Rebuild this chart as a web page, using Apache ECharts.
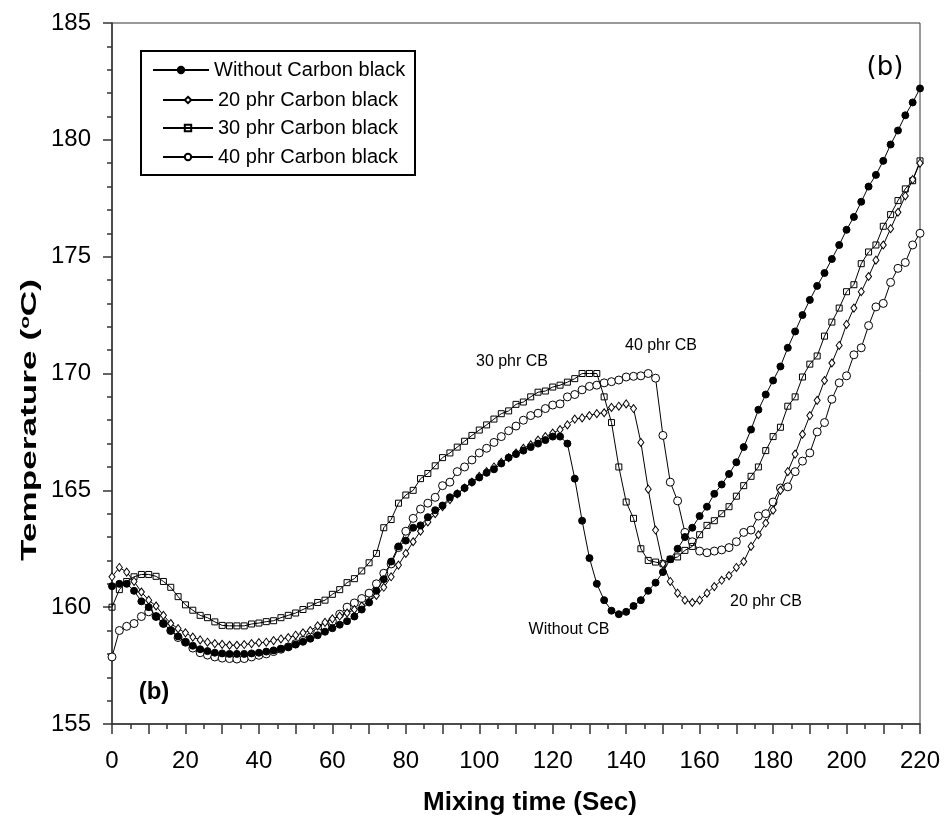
<!DOCTYPE html>
<html><head><meta charset="utf-8">
<script src="https://cdn.jsdelivr.net/npm/echarts@6/dist/echarts.min.js"></script>
<style>html,body{margin:0;padding:0;background:#fff}#c{width:945px;height:819px}</style>
</head><body><div id="c"></div>
<script>
// Mixing time (s)
const times = [
  0,2,4,6,8,10,12,14,16,18,
  20,22,24,26,28,30,32,34,36,38,
  40,42,44,46,48,50,52,54,56,58,
  60,62,64,66,68,70,72,74,76,78,
  80,82,84,86,88,90,92,94,96,98,
  100,102,104,106,108,110,112,114,116,118,
  120,122,124,126,128,130,132,134,136,138,
  140,142,144,146,148,150,152,154,156,158,
  160,162,164,166,168,170,172,174,176,178,
  180,182,184,186,188,190,192,194,196,198,
  200,202,204,206,208,210,212,214,216,218,
  220
];
const seriesNames = ['Without Carbon black','20 phr Carbon black','30 phr Carbon black','40 phr Carbon black'];
const withoutCB = [
  160.9,161.0,161.0,160.7,160.25,160.0,159.6,159.3,159.0,158.75,
  158.5,158.35,158.2,158.12,158.05,158.02,158.0,158.0,158.0,158.02,
  158.05,158.1,158.15,158.22,158.3,158.4,158.52,158.65,158.8,158.95,
  159.1,159.25,159.4,159.6,159.9,160.2,160.7,161.2,161.95,162.6,
  162.85,163.4,163.5,163.85,164.15,164.35,164.7,164.85,165.1,165.35,
  165.55,165.75,165.9,166.15,166.4,166.55,166.7,166.85,167.0,167.15,
  167.3,167.3,167.0,165.5,163.7,162.1,161.0,160.3,159.85,159.7,
  159.8,160.05,160.3,160.7,161.05,161.5,162.05,162.5,163.0,163.4,
  163.9,164.3,164.85,165.25,165.7,166.2,166.85,167.6,168.45,169.1,
  169.7,170.3,171.1,171.8,172.5,173.15,173.75,174.3,174.9,175.5,
  176.15,176.7,177.35,178.0,178.5,179.1,179.8,180.4,181.05,181.6,
  182.2
];
const phr20 = [
  161.3,161.7,161.5,161.1,160.65,160.3,160.05,159.65,159.3,159.08,
  158.9,158.72,158.6,158.5,158.44,158.41,158.37,158.37,158.4,158.44,
  158.48,158.5,158.57,158.64,158.7,158.8,158.9,159.0,159.2,159.35,
  159.5,159.62,159.75,159.9,160.05,160.25,160.5,160.85,161.3,161.8,
  162.3,162.8,163.25,163.65,164.0,164.3,164.6,164.85,165.1,165.35,
  165.6,165.8,166.0,166.2,166.4,166.6,166.8,166.95,167.15,167.3,
  167.45,167.6,167.8,168.05,168.1,168.2,168.28,168.32,168.55,168.6,
  168.7,168.5,167.05,165.05,163.3,161.85,161.1,160.6,160.3,160.2,
  160.3,160.6,160.88,161.15,161.35,161.7,161.95,162.6,163.1,163.6,
  164.15,165.0,165.8,166.55,167.4,168.2,168.85,169.7,170.45,171.2,
  172.1,172.8,173.5,174.15,174.85,175.5,176.2,176.9,177.6,178.3,
  179.0
];
const phr30 = [
  160.0,160.75,161.1,161.3,161.4,161.4,161.32,161.1,160.85,160.45,
  160.1,159.87,159.65,159.55,159.37,159.22,159.2,159.2,159.2,159.28,
  159.32,159.38,159.42,159.55,159.65,159.75,159.9,160.05,160.2,160.3,
  160.55,160.75,161.05,161.22,161.55,161.9,162.3,163.4,163.75,164.45,
  164.8,165.0,165.5,165.72,166.05,166.4,166.6,166.85,167.1,167.35,
  167.58,167.8,168.05,168.28,168.4,168.68,168.78,169.0,169.2,169.25,
  169.42,169.5,169.63,169.78,170.0,170.0,170.0,169.0,167.9,166.0,
  164.5,163.8,162.5,162.0,161.93,161.86,162.05,162.15,162.43,162.6,
  163.1,163.5,163.7,164.0,164.3,164.75,165.2,165.6,166.0,166.7,
  167.3,167.7,168.6,169.0,169.85,170.4,170.75,171.6,172.2,172.8,
  173.5,173.8,174.7,175.2,175.5,176.3,176.8,177.4,177.9,178.25,
  179.1
];
const phr40 = [
  157.87,159.0,159.18,159.3,159.6,159.8,159.6,159.3,159.0,158.7,
  158.5,158.25,158.05,157.95,157.87,157.82,157.8,157.78,157.8,157.87,
  157.94,158.0,158.1,158.2,158.3,158.44,158.58,158.72,158.92,159.15,
  159.4,159.7,160.0,160.18,160.37,160.6,161.0,161.45,161.85,162.55,
  163.25,163.8,164.2,164.45,164.7,165.2,165.35,165.8,166.0,166.3,
  166.6,166.8,167.05,167.3,167.55,167.75,168.0,168.2,168.3,168.5,
  168.65,168.7,169.0,169.1,169.3,169.45,169.5,169.6,169.65,169.72,
  169.85,169.88,169.9,170.0,169.8,167.35,165.35,164.55,163.2,162.8,
  162.4,162.33,162.4,162.45,162.55,162.8,163.2,163.3,163.9,164.0,
  164.5,165.1,165.15,165.8,166.25,166.6,167.5,167.9,168.9,169.6,
  169.9,170.8,171.1,172.05,172.85,173.0,173.9,174.5,174.75,175.5,
  176.0
];
const xTickLabelStep = 20;

const FONT = '"Liberation Sans", Arial, Helvetica, sans-serif';
const chart = echarts.init(document.getElementById('c'), null, {renderer: 'canvas'});
const pair = arr => times.map((t, i) => [t, arr[i]]);

const markerStyles = [
  {symbol: 'circle', symbolSize: 7, itemStyle: {color: '#000', borderColor: '#000', borderWidth: 1}},
  {symbol: 'diamond', symbolSize: [6, 8], itemStyle: {color: '#fff', borderColor: '#000', borderWidth: 1}},
  {symbol: 'rect', symbolSize: 6, itemStyle: {color: 'rgba(0,0,0,0)', borderColor: '#000', borderWidth: 1}},
  {symbol: 'circle', symbolSize: 8, itemStyle: {color: '#fff', borderColor: '#000', borderWidth: 1}}
];
const allData = [withoutCB, phr20, phr30, phr40];

const series = seriesNames.map((name, k) => Object.assign({
  name: name,
  type: 'line',
  data: pair(allData[k]),
  showSymbol: true,
  showAllSymbol: true,
  lineStyle: {color: '#000', width: 1},
  emphasis: {disabled: true},
  z: 3 + (3 - k)
}, markerStyles[k]));

const legendRows = [
  {left: 152, top: 60, itemWidth: 56},
  {left: 162, top: 90, itemWidth: 50},
  {left: 162, top: 118, itemWidth: 50},
  {left: 162, top: 147, itemWidth: 50}
];
const legends = seriesNames.map((name, k) => ({
  data: [name],
  left: legendRows[k].left,
  top: legendRows[k].top,
  padding: 0,
  itemWidth: legendRows[k].itemWidth,
  itemHeight: 8,
  itemGap: 0,
  selectedMode: false,
  textStyle: {fontSize: 20, color: '#000', fontFamily: FONT, padding: [0, 0, 0, 0]},
  z: 10
}));

const annotations = [
  {text: '30 phr CB', x: 512, y: 362, size: 16, weight: 'normal', family: FONT},
  {text: '40 phr CB', x: 661, y: 346, size: 16, weight: 'normal', family: FONT},
  {text: 'Without CB', x: 569, y: 630, size: 16, weight: 'normal', family: FONT},
  {text: '20 phr CB', x: 766, y: 602, size: 16, weight: 'normal', family: FONT},
  {text: '(b)', x: 154, y: 692, size: 24, weight: 'bold', family: FONT},
  {text: '(b)', x: 885, y: 68, size: 26, weight: 'normal', family: '"DejaVu Sans", sans-serif'}
];

const graphics = [
  {type: 'rect', shape: {x: 141, y: 51, width: 274, height: 124},
   style: {fill: '#fff', stroke: '#000', lineWidth: 2}, z: 5}
].concat(annotations.map(a => ({
  type: 'text', x: a.x, y: a.y, z: 20,
  style: {text: a.text, fill: '#000', align: 'center', verticalAlign: 'middle',
          font: a.weight + ' ' + a.size + 'px ' + a.family}
}))).concat([
  {type: 'text', x: 423, y: 803, z: 20,
   style: {text: 'Mixing time (Sec)', fill: '#000', align: 'left', verticalAlign: 'middle',
           font: 'bold 26px ' + FONT}},
  {type: 'text', x: 30, y: 420, rotation: Math.PI / 2, scaleX: 1.6, scaleY: 1, z: 20,
   style: {text: 'Temperature ({sup|o}C)', fill: '#000', align: 'center', verticalAlign: 'middle',
           font: 'bold 22px ' + FONT,
           rich: {sup: {fontSize: 13, fontWeight: 'bold', fontFamily: FONT, verticalAlign: 'top', lineHeight: 22}}}}
]);

chart.setOption({
  animation: false,
  backgroundColor: '#fff',
  grid: {left: 112, right: 25, top: 23, bottom: 95, show: true, borderColor: '#333', borderWidth: 1, backgroundColor: 'transparent'},
  legend: legends,
  xAxis: {
    type: 'value', min: 0, max: 220, interval: 10,
    axisLine: {show: true, onZero: false, lineStyle: {color: '#333', width: 1.5}},
    axisTick: {show: true, inside: false, length: 10, lineStyle: {color: '#333', width: 1.5}},
    minorTick: {show: true, splitNumber: 2, length: 5, lineStyle: {color: '#333', width: 1.5}},
    splitLine: {show: false},
    axisLabel: {show: true, fontSize: 24, color: '#000', fontFamily: FONT, margin: 25,
      showMinLabel: true, showMaxLabel: true,
      formatter: v => (v % xTickLabelStep === 0 ? String(v) : '')}
  },
  yAxis: {
    type: 'value', min: 155, max: 185, interval: 5,
    axisLine: {show: true, onZero: false, lineStyle: {color: '#333', width: 1.5}},
    axisTick: {show: true, inside: false, length: 9, lineStyle: {color: '#333', width: 1.5}},
    minorTick: {show: true, splitNumber: 5, length: 5, lineStyle: {color: '#333', width: 1.5}},
    splitLine: {show: false},
    axisLabel: {show: true, fontSize: 24, color: '#000', fontFamily: FONT, margin: 21,
      showMinLabel: true, showMaxLabel: true}
  },
  graphic: graphics,
  series: series
});
</script>
</body></html>
